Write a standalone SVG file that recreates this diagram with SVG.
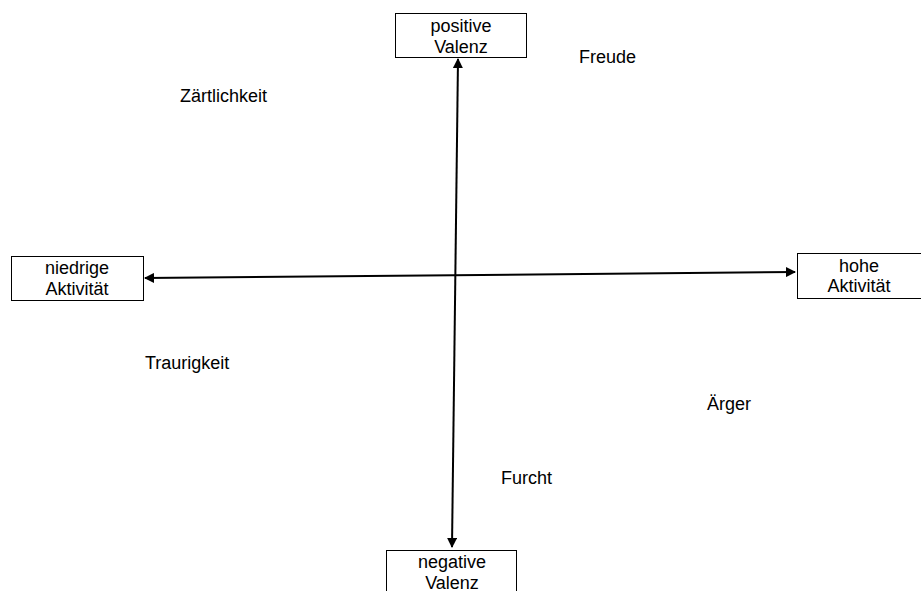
<svg xmlns="http://www.w3.org/2000/svg" width="921" height="591" viewBox="0 0 921 591">
<style>
text{font-family:"Liberation Sans",Arial,sans-serif;font-size:18px;fill:#000}
.box{fill:#fff;stroke:#000;stroke-width:1}
.c{text-anchor:middle}
.ax{stroke:#000;stroke-width:2;fill:none}
</style>
<defs>
<marker id="ah" viewBox="0 0 10 10" refX="9" refY="5" markerWidth="5" markerHeight="5" orient="auto-start-reverse" markerUnits="strokeWidth">
<path d="M0,0 L10,5 L0,10 z" fill="#000"/>
</marker>
</defs>
<rect width="921" height="591" fill="#fff"/>
<g id="connectors">
<line class="ax" x1="458" y1="59" x2="452" y2="547" marker-start="url(#ah)" marker-end="url(#ah)"/>
<line class="ax" x1="145" y1="278" x2="795" y2="272" marker-start="url(#ah)" marker-end="url(#ah)"/>
</g>
<g id="positive">
<rect class="box" x="395.5" y="13.5" width="131" height="44"/>
<text class="c" x="461" y="32">positive</text>
<text class="c" x="461" y="53">Valenz</text>
</g>
<g id="niedrige">
<rect class="box" x="11.5" y="256.5" width="132" height="44"/>
<text class="c" x="77" y="274">niedrige</text>
<text class="c" x="77" y="295">Aktivität</text>
</g>
<g id="hohe">
<rect class="box" x="797.5" y="253.5" width="130" height="45"/>
<text class="c" x="859" y="272">hohe</text>
<text class="c" x="859" y="292">Aktivität</text>
</g>
<g id="negative">
<rect class="box" x="386.5" y="550.5" width="130" height="50"/>
<text class="c" x="452" y="568">negative</text>
<text class="c" x="452" y="589">Valenz</text>
</g>
<g id="labels">
<text x="579" y="63">Freude</text>
<text x="180" y="102">Zärtlichkeit</text>
<text x="145" y="369">Traurigkeit</text>
<text x="707" y="410">Ärger</text>
<text x="501" y="484">Furcht</text>
</g>
</svg>
